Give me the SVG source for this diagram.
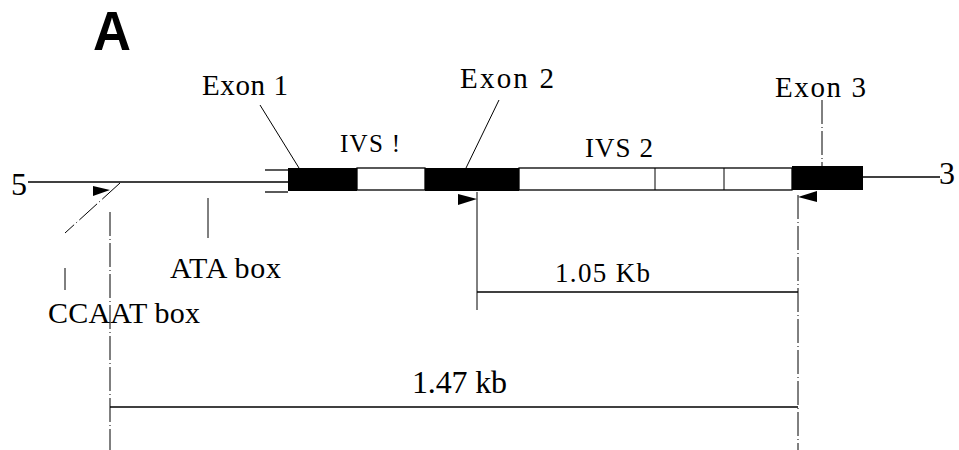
<svg xmlns="http://www.w3.org/2000/svg" width="959" height="450" viewBox="0 0 959 450">
<style>
.t{font-family:"Liberation Serif","Times New Roman",serif;fill:#000}
.ln{stroke:#000;stroke-width:1.3;fill:none}
.thin{stroke:#000;stroke-width:1;fill:none}
.dash{stroke:#000;stroke-width:1;fill:none;stroke-dasharray:24 3 1 3}
.blk{fill:#000}
.wht{fill:#fff;stroke:#000;stroke-width:1.3}
</style>
<rect width="959" height="450" fill="#fff"/>
<text x="93" y="50" font-family="Liberation Sans,Arial,sans-serif" font-weight="bold" font-size="56" textLength="38" lengthAdjust="spacingAndGlyphs">A</text>

<g id="connectors">
<line class="thin" x1="260" y1="105" x2="299" y2="168"/>
<line class="thin" x1="499" y1="100" x2="466" y2="168"/>
<line class="dash" x1="822" y1="100" x2="822" y2="166"/>
<line class="dash" x1="120" y1="183" x2="65" y2="233"/>
<line class="dash" x1="65" y1="268" x2="65" y2="290"/>
<line class="dash" x1="110" y1="212" x2="110" y2="450"/>
<line class="thin" x1="208" y1="198" x2="208" y2="238"/>
<line class="thin" x1="477" y1="192" x2="477" y2="310"/>
<line class="dash" x1="798" y1="195" x2="798" y2="450"/>
<line class="ln" x1="477" y1="292" x2="798" y2="292"/>
<line class="ln" x1="110" y1="407" x2="798" y2="407"/>
</g>

<g id="gene">
<line class="ln" x1="28" y1="182" x2="288" y2="182"/>
<line class="ln" x1="265" y1="170" x2="288" y2="170"/>
<line class="ln" x1="265" y1="192" x2="288" y2="192"/>
<rect class="wht" x="519" y="168" width="273" height="22"/>
<line class="thin" x1="655" y1="168" x2="655" y2="190"/>
<line class="thin" x1="724" y1="168" x2="724" y2="190"/>
<rect class="wht" x="357" y="168" width="68" height="22"/>
<rect class="blk" x="288" y="168" width="69" height="23"/>
<rect class="blk" x="425" y="168" width="94" height="23"/>
<rect class="blk" x="792" y="166" width="71" height="24"/>
<line class="ln" x1="863" y1="177" x2="940" y2="177"/>
</g>

<g id="arrows">
<polygon class="blk" points="93,186 110,190 93,196"/>
<polygon class="blk" points="458,194 477,199 458,205"/>
<polygon class="blk" points="817,191 798,197 817,202"/>
</g>

<g id="labels">
<text class="t" x="11" y="195" font-size="32">5</text>
<text class="t" x="939" y="184" font-size="32">3</text>
<text class="t" x="202" y="95" font-size="29" textLength="86">Exon 1</text>
<text class="t" x="460" y="88" font-size="29" textLength="94">Exon 2</text>
<text class="t" x="775" y="97" font-size="29" textLength="91">Exon 3</text>
<text class="t" x="340" y="152" font-size="25" textLength="60">IVS !</text>
<text class="t" x="585" y="157" font-size="27" textLength="68">IVS 2</text>
<text class="t" x="170" y="278" font-size="30" textLength="111">ATA box</text>
<text class="t" x="48" y="323" font-size="30" textLength="152">CCAAT box</text>
<text class="t" x="555" y="282" font-size="27" textLength="95" font-family="DejaVu Serif,serif" style="font-weight:200" fill="#222">1.05 Kb</text>
<text class="t" x="412" y="393" font-size="32" textLength="95">1.47 kb</text>
</g>
</svg>
